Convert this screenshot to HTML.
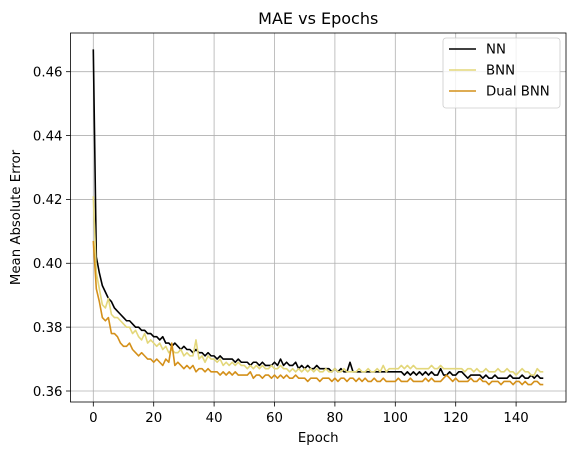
<!DOCTYPE html>
<html><head><meta charset="utf-8"><style>
html,body{margin:0;padding:0;background:#fff}
svg{display:block;font-family:"DejaVu Sans","Liberation Sans",sans-serif}
</style></head><body>
<svg id="chart" width="576" height="455" viewBox="0 0 576 455"></svg>
<script>
const epochs = Array.from({length:150},(_, i)=>i);
const nnValues = [.467,.402,.397,.393,.391,.389,.388,.386,.385,.384,
.383,.382,.382,.381,.380,.380,.379,.379,.378,.378,
.377,.377,.376,.377,.375,.375,.374,.375,.374,.373,
.374,.373,.373,.372,.373,.372,.372,.371,.372,.371,
.371,.370,.371,.370,.370,.370,.370,.369,.370,.369,
.369,.369,.368,.369,.369,.368,.369,.368,.368,.368,
.369,.368,.370,.368,.369,.368,.368,.369,.367,.368,
.367,.368,.367,.367,.368,.367,.367,.367,.367,.366,
.367,.366,.367,.366,.366,.369,.366,.366,.366,.366,
.366,.366,.366,.366,.366,.366,.366,.366,.366,.366,
.366,.366,.366,.365,.366,.365,.366,.365,.366,.365,
.366,.365,.366,.365,.365,.367,.365,.365,.366,.365,
.365,.366,.366,.365,.364,.365,.365,.365,.365,.364,
.365,.364,.364,.365,.364,.364,.364,.364,.365,.364,
.364,.364,.365,.364,.364,.365,.364,.365,.364,.364];
const bnnValues = [.421,.397,.392,.387,.386,.389,.384,.383,.383,.382,
.381,.380,.380,.378,.379,.377,.376,.378,.375,.376,
.375,.374,.375,.373,.374,.372,.373,.372,.372,.373,
.371,.372,.371,.371,.376,.370,.371,.369,.371,.370,
.370,.369,.370,.368,.369,.368,.369,.368,.369,.368,
.368,.367,.368,.367,.368,.367,.368,.367,.367,.368,
.367,.367,.368,.367,.367,.366,.367,.366,.367,.366,
.367,.366,.367,.366,.367,.366,.366,.367,.366,.366,
.367,.366,.366,.367,.366,.366,.366,.366,.367,.366,
.366,.367,.366,.366,.367,.366,.368,.366,.367,.367,
.367,.367,.368,.367,.368,.367,.368,.367,.367,.367,
.367,.367,.368,.367,.367,.368,.367,.367,.367,.367,
.367,.367,.367,.366,.367,.367,.366,.367,.366,.366,
.367,.366,.366,.366,.367,.366,.366,.367,.366,.366,
.365,.366,.367,.366,.366,.365,.365,.367,.366,.366];
const dualValues = [.407,.392,.388,.383,.382,.383,.378,.378,.377,.375,
.374,.374,.375,.373,.372,.371,.372,.371,.370,.370,
.369,.370,.369,.368,.370,.369,.375,.368,.369,.368,
.367,.368,.367,.368,.366,.367,.367,.366,.367,.366,
.366,.366,.365,.366,.365,.366,.365,.366,.365,.365,
.365,.365,.366,.364,.365,.365,.364,.365,.365,.364,
.365,.364,.365,.364,.365,.364,.364,.365,.364,.364,
.364,.363,.364,.364,.364,.363,.364,.364,.364,.363,
.364,.363,.364,.364,.363,.364,.364,.363,.364,.363,
.364,.363,.363,.364,.363,.363,.364,.363,.363,.363,
.363,.364,.363,.363,.363,.364,.363,.363,.363,.363,
.364,.363,.364,.363,.363,.363,.364,.365,.364,.363,
.364,.363,.363,.363,.363,.364,.363,.363,.364,.363,
.363,.362,.363,.363,.363,.362,.363,.363,.363,.362,
.363,.363,.362,.363,.362,.362,.363,.363,.362,.362];
const xTicks = [0,20,40,60,80,100,120,140];
const yTicks = [0.36,0.38,0.40,0.42,0.44,0.46];
const seriesNames = ["NN","BNN","Dual BNN"];
const seriesColors = ["#000000","#e3d77a","#d4901a"];

const NS="http://www.w3.org/2000/svg";
const svg=document.getElementById('chart');
const L=70.5,R=566,T=33,B=402;
function xs(v){return 93.3+v*3.02;}
function ys(v){return 71.7+(0.46-v)*3193;}
function mk(tag,attrs,parent){const e=document.createElementNS(NS,tag);for(const k in attrs)e.setAttribute(k,attrs[k]);(parent||svg).appendChild(e);return e;}

xTicks.forEach(t=>{
  const g=mk('line',{x1:xs(t),x2:xs(t),y1:T,y2:B,stroke:'#b0b0b0','stroke-width':0.8});
  
  
  const tk=mk('line',{x1:xs(t),x2:xs(t),y1:B,y2:B+4.5,stroke:'#000','stroke-width':0.8});
  
  
  const tx=mk('text',{x:xs(t),y:B+20,'text-anchor':'middle','font-size':13.3,fill:'#000'});
  tx.textContent=t;
  
  
});
yTicks.forEach(t=>{
  const g=mk('line',{x1:L,x2:R,y1:ys(t),y2:ys(t),stroke:'#b0b0b0','stroke-width':0.8});
  
  
  const tk=mk('line',{x1:L-4.5,x2:L,y1:ys(t),y2:ys(t),stroke:'#000','stroke-width':0.8});
  
  
  const tx=mk('text',{x:L-8,y:ys(t)+4.8,'text-anchor':'end','font-size':13.3,fill:'#000'});
  tx.textContent=t.toFixed(2);
  
  
});

[nnValues,bnnValues,dualValues].forEach((vals,si)=>{
  const d=vals.map((v,i)=>(i?'L':'M')+xs(epochs[i]).toFixed(2)+','+ys(v).toFixed(2)).join('');
  const p=mk('path',{d:d,fill:'none',stroke:seriesColors[si],'stroke-width':1.6,'stroke-linejoin':'round'});
  
  
});

const fr=mk('rect',{x:L,y:T,width:R-L,height:B-T,fill:'none',stroke:'#000','stroke-width':0.8});



const ti=mk('text',{x:(L+R)/2,y:24,'text-anchor':'middle','font-size':16,fill:'#000'});
ti.textContent='MAE vs Epochs';


const xl=mk('text',{x:(L+R)/2,y:442,'text-anchor':'middle','font-size':13.3,fill:'#000'});
xl.textContent='Epoch';


const yl=mk('text',{x:0,y:0,'text-anchor':'middle','font-size':13.3,fill:'#000',transform:'translate(20,'+((T+B)/2)+') rotate(-90)'});
yl.textContent='Mean Absolute Error';



const lg=mk('rect',{x:443,y:38,width:117,height:70,rx:3,fill:'#fff','fill-opacity':0.8,stroke:'#cccccc','stroke-width':0.8});


seriesNames.forEach((n,i)=>{
  const y=49+i*21;
  const ln=mk('line',{x1:449,x2:476,y1:y,y2:y,stroke:seriesColors[i],'stroke-width':1.6});
  
  
  const tx=mk('text',{x:486,y:y+4.7,'font-size':13.3,fill:'#000'});
  tx.textContent=n;
  
  
});
</script>
</body></html>
